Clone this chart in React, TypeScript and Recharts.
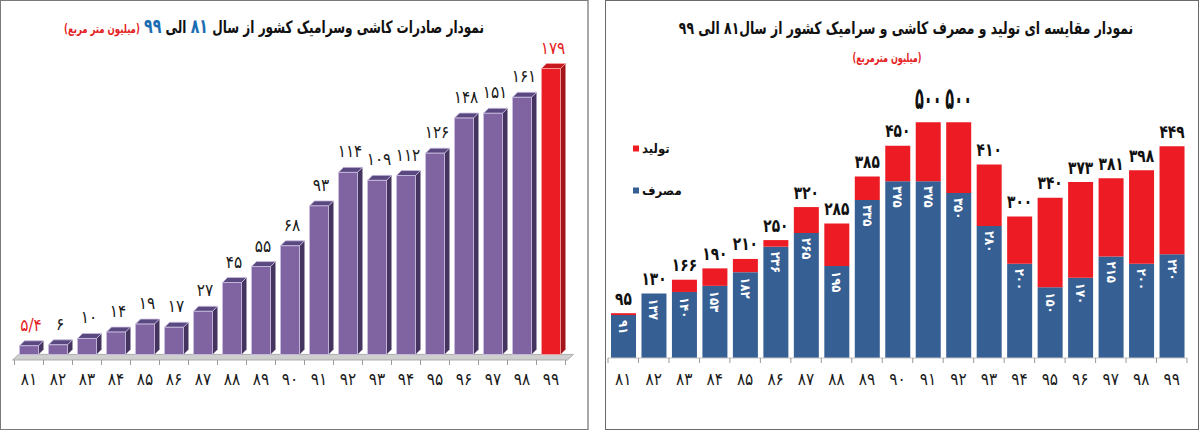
import React from 'react';
import { BarChart, Bar, XAxis, YAxis, LabelList, ReferenceArea } from 'recharts';

const years = [81, 82, 83, 84, 85, 86, 87, 88, 89, 90, 91, 92, 93, 94, 95, 96, 97, 98, 99];
const exportValues = [5.4, 6, 10, 14, 19, 17, 27, 45, 55, 68, 93, 114, 109, 112, 126, 148, 151, 161, 179];
const productionValues = [95, 130, 166, 190, 210, 250, 320, 285, 385, 450, 500, 500, 410, 300, 340, 373, 381, 398, 449];
const consumptionValues = [91, 137, 140, 153, 182, 236, 265, 195, 335, 375, 375, 350, 280, 200, 150, 170, 215, 200, 220];

const FONT = '"DejaVu Sans Condensed", "DejaVu Sans", sans-serif';
const FA_DIGITS = '۰۱۲۳۴۵۶۷۸۹';
const toFa = (v: number | string) =>
  String(v).replace('.', '/').replace(/[0-9]/g, (d) => FA_DIGITS[Number(d)]);

const exportData = years.map((y, i) => ({ year: toFa(y), value: exportValues[i] }));
const balanceData = years.map((y, i) => ({
  year: toFa(y),
  consumption: consumptionValues[i],
  surplus: Math.max(productionValues[i] - consumptionValues[i], 0),
  production: productionValues[i],
}));
const maxProduction = Math.max(...productionValues);

const DEPTH = 5;
const LEFT_BAND = 29;
const RIGHT_BAND = 30.47;

// 3D column for the export chart
const Column3D = (props: any) => {
  const { x, y, width, height, index } = props;
  if (!height) return null;
  const last = index === exportValues.length - 1;
  const front = last ? '#ec1c24' : '#8064a2';
  const side = last ? '#a5141a' : '#44345f';
  const top = last ? '#c8161d' : '#5a4880';
  const edge = last ? '#f6a2a5' : '#cbbfe0';
  const r = x + width;
  return (
    <g>
      <polygon
        points={`${r},${y} ${r + DEPTH},${y - DEPTH} ${r + DEPTH},${y + height - DEPTH} ${r},${y + height}`}
        fill={side}
      />
      <polygon
        points={`${x},${y} ${x + DEPTH},${y - DEPTH} ${r + DEPTH},${y - DEPTH} ${r},${y}`}
        fill={top}
        stroke={edge}
        strokeWidth={0.8}
      />
      <rect x={x} y={y} width={width} height={height} fill={front} stroke={edge} strokeWidth={0.8} />
    </g>
  );
};

const Floor = (props: any) => {
  const { x, y, width, height } = props;
  const b = y + height;
  return (
    <polygon
      points={`${x - 2},${b} ${x + width + 2},${b} ${x + width + 8},${y} ${x + 4},${y}`}
      fill="#cfcfcf"
      stroke="#a0a0a0"
      strokeWidth={0.8}
    />
  );
};

const ExportLabel = (props: any) => {
  const { x, y, width, value, index } = props;
  const red = index === 0 || index === exportValues.length - 1;
  return (
    <text
      x={x + width / 2 + 2}
      y={y - 21}
      textAnchor="middle"
      dominantBaseline="central"
      fontFamily={FONT}
      fontSize={17}
      fill={red ? '#e31e24' : '#1a1a1a'}
    >
      {toFa(value)}
    </text>
  );
};

const makeTick = (band: number, offset: number, count: number) => (props: any) => {
  const { x, y, payload, index } = props;
  const half = band / 2;
  return (
    <g>
      <line x1={x - half} x2={x - half} y1={y} y2={y + 5} stroke="#9a9a9a" />
      {index === count - 1 && <line x1={x + half} x2={x + half} y1={y} y2={y + 5} stroke="#9a9a9a" />}
      <text
        x={x}
        y={y + offset}
        textAnchor="middle"
        dominantBaseline="central"
        fontFamily={FONT}
        fontSize={17}
        fill="#1a1a1a"
      >
        {payload.value}
      </text>
    </g>
  );
};

// total (production) label, placed from the consumption segment's own scale
const TotalLabel = (props: any) => {
  const { x, y, width, height, value, index } = props;
  const total = productionValues[index];
  const perUnit = height / value;
  const top = y + height - Math.max(total, value) * perUnit;
  const big = total === maxProduction;
  const cx = x + width / 2;
  const cy = top - (big ? 23 : 15);
  return (
    <text
      x={0}
      y={0}
      transform={`translate(${cx} ${cy}) scale(${big ? 0.54 : 0.85} 1)`}
      textAnchor="middle"
      dominantBaseline="central"
      fontFamily={FONT}
      fontWeight="bold"
      fontSize={big ? 30 : 18}
      fill="#111"
    >
      {toFa(total)}
    </text>
  );
};

const InnerLabel = (props: any) => {
  const { x, y, width, value } = props;
  const cx = x + width / 2;
  const ty = y + 5;
  return (
    <text
      x={cx}
      y={ty}
      transform={`rotate(90 ${cx} ${ty})`}
      textAnchor="start"
      dominantBaseline="central"
      fontFamily={FONT}
      fontWeight="bold"
      fontSize={13}
      fill="#ffffff"
    >
      {toFa(value)}
    </text>
  );
};

const App: React.FC = () => {
  return (
    <div
      style={{
        position: 'fixed',
        left: 0,
        top: 0,
        width: 1200,
        height: 432,
        background: '#fff',
        fontFamily: FONT,
        overflow: 'hidden',
      }}
    >
      {/* panels */}
      <div
        style={{
          position: 'absolute',
          left: 0,
          top: 0,
          width: 589,
          height: 430,
          boxSizing: 'border-box',
          border: '1px solid #7a7a7a',
          borderRight: '2px solid #a8a8a8',
        }}
      />
      <div
        style={{
          position: 'absolute',
          left: 605,
          top: 0,
          width: 594,
          height: 430,
          boxSizing: 'border-box',
          border: '1px solid #6a6a6a',
        }}
      />

      {/* left chart */}
      <div style={{ position: 'absolute', left: 0, top: 0 }}>
        <BarChart
          width={589}
          height={430}
          data={exportData}
          margin={{ top: 35, right: 23.5, left: 14.5, bottom: 40 }}
          barCategoryGap={0}
        >
          <XAxis
            dataKey="year"
            axisLine={false}
            tickLine={false}
            tickSize={0}
            tickMargin={0}
            interval={0}
            tick={makeTick(LEFT_BAND, 19, years.length)}
          />
          <YAxis hide domain={[-3.5, 200]} />
          <ReferenceArea y1={-3.5} y2={0} shape={<Floor />} ifOverflow="visible" />
          <Bar dataKey="value" barSize={19} shape={<Column3D />} isAnimationActive={false}>
            <LabelList dataKey="value" content={<ExportLabel />} />
          </Bar>
        </BarChart>
      </div>

      {/* right chart */}
      <div style={{ position: 'absolute', left: 605, top: 0 }}>
        <BarChart
          width={594}
          height={430}
          data={balanceData}
          margin={{ top: 75, right: 12, left: 3, bottom: 42 }}
        >
          <XAxis
            dataKey="year"
            axisLine={{ stroke: '#c4c4c4' }}
            tickLine={false}
            tickSize={0}
            tickMargin={0}
            interval={0}
            tick={makeTick(RIGHT_BAND, 21, years.length)}
          />
          <YAxis hide domain={[0, 600]} allowDataOverflow />
          <Bar dataKey="consumption" stackId="a" barSize={25} fill="#365f94" isAnimationActive={false}>
            <LabelList dataKey="consumption" content={<InnerLabel />} />
            <LabelList dataKey="consumption" content={<TotalLabel />} />
          </Bar>
          <Bar dataKey="surplus" stackId="a" barSize={25} fill="#ed1c24" isAnimationActive={false} />
        </BarChart>
      </div>

      {/* left title */}
      <div
        dir="rtl"
        style={{
          position: 'absolute',
          left: 274,
          top: 26,
          transform: 'translate(-50%, -50%) scaleX(0.79)',
          whiteSpace: 'nowrap',
          fontWeight: 'bold',
          fontSize: 17,
          color: '#111',
        }}
      >
        نمودار صادرات کاشی وسرامیک کشور از سال <span style={{ color: '#1b6db3', fontSize: 20 }}>۸۱</span> الی{' '}
        <span style={{ color: '#1b6db3', fontSize: 20 }}>۹۹</span>{' '}
        <span style={{ color: '#e31e24', fontSize: 12 }}>(میلیون متر مربع)</span>
      </div>

      {/* right title */}
      <div
        dir="rtl"
        style={{
          position: 'absolute',
          left: 906,
          top: 28,
          transform: 'translate(-50%, -50%) scaleX(0.81)',
          whiteSpace: 'nowrap',
          fontWeight: 'bold',
          fontSize: 17,
          color: '#111',
        }}
      >
        نمودار مقایسه ای تولید و مصرف کاشی و سرامیک کشور از سال۸۱ الی ۹۹
      </div>
      <div
        dir="rtl"
        style={{
          position: 'absolute',
          left: 887,
          top: 58,
          transform: 'translate(-50%, -50%) scaleX(0.75)',
          whiteSpace: 'nowrap',
          fontWeight: 'bold',
          fontSize: 12,
          color: '#e31e24',
        }}
      >
        (میلیون مترمربع)
      </div>

      {/* legend */}
      {[
        { name: 'تولید', color: '#ed1c24', top: 148 },
        { name: 'مصرف', color: '#365f94', top: 190 },
      ].map((item) => (
        <div
          key={item.name}
          style={{
            position: 'absolute',
            left: 633,
            top: item.top,
            transform: 'translateY(-50%)',
            display: 'flex',
            alignItems: 'center',
            gap: 3,
            fontWeight: 'bold',
            fontSize: 13,
            color: '#111',
          }}
        >
          <span style={{ width: 6, height: 6, background: item.color, display: 'inline-block' }} />
          <span>{item.name}</span>
        </div>
      ))}
    </div>
  );
};

export default App;
